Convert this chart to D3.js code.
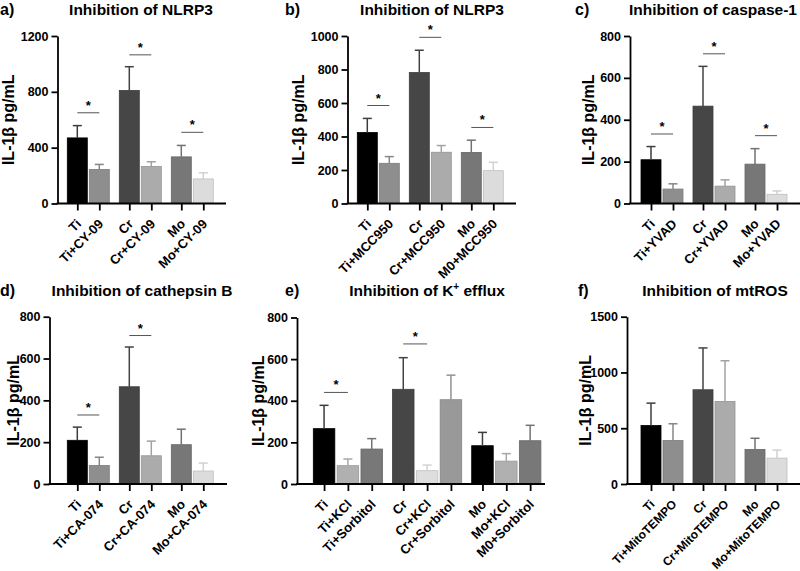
<!DOCTYPE html>
<html><head><meta charset="utf-8">
<script src="https://cdn.jsdelivr.net/npm/d3@7"></script>
<style>body{margin:0;background:#fff}svg{display:block}text{font-family:"Liberation Sans",Arial,sans-serif;font-weight:bold;fill:#000}</style>
</head><body>
<script>
// ---- data ----
const catsA = ["Ti","Ti+CY-09","Cr","Cr+CY-09","Mo","Mo+CY-09"];
const valsA = [470,244,810,265,334,176];
const errA  = [88,36,170,34,82,44];
const sigA  = [[0,1,650],[2,3,1065],[4,5,510]];
const ticksA = [0,400,800,1200];

const catsB = ["Ti","Ti+MCC950","Cr","Cr+MCC950","Mo","M0+MCC950"];
const valsB = [424,240,782,306,305,196];
const errB  = [84,40,133,40,73,50];
const sigB  = [[0,1,585],[2,3,992],[4,5,454]];
const ticksB = [0,200,400,600,800,1000];

const catsC = ["Ti","Ti+YVAD","Cr","Cr+YVAD","Mo","Mo+YVAD"];
const valsC = [209,69,465,83,188,44];
const errC  = [63,25,190,30,74,16];
const sigC  = [[0,1,332],[2,3,715],[4,5,324]];
const ticksC = [0,200,400,600,800];

const catsD = ["Ti","Ti+CA-074","Cr","Cr+CA-074","Mo","Mo+CA-074"];
const valsD = [209,88,465,135,188,62];
const errD  = [63,40,190,70,74,38];
const sigD  = [[0,1,330],[2,3,710]];
const ticksD = [0,200,400,600,800];

const catsE = ["Ti","Ti+KCl","Ti+Sorbitol","Cr","Cr+KCl","Cr+Sorbitol","Mo","Mo+KCl","M0+Sorbitol"];
const valsE = [266,88,168,455,64,405,184,110,208];
const errE  = [112,32,50,152,27,118,64,36,74];
const sigE  = [[0,1,440],[3,4,673]];
const ticksE = [0,200,400,600,800];

const catsF = ["Ti","Ti+MitoTEMPO","Cr","Cr+MitoTEMPO","Mo","Mo+MitoTEMPO"];
const valsF = [525,390,845,740,310,232];
const errF  = [200,150,375,365,100,72];
const sigF  = [];
const ticksF = [0,500,1000,1500];

const palette6 = ["#000000","#8e8e8e","#464646","#ababab","#777777","#dcdcdc"];
const palette9 = ["#000000","#b0b0b0","#787878","#464646","#dedede","#999999","#000000","#b0b0b0","#787878"];

const W = 800, H = 571;
const svg = d3.select("body").append("svg").attr("width", W).attr("height", H);

function panel(c) {
  const g = svg.append("g");
  const y = d3.scaleLinear().domain([0, c.ticks[c.ticks.length - 1]]).range([c.y0, c.y1]);
  const nG = c.cats.length / c.per;
  const groups = d3.range(nG);
  const gstep = c.gstep;
  const outer = d3.scaleBand().domain(groups)
    .range([c.bx, c.bx + nG * gstep - c.ggap])
    .paddingInner(c.ggap / gstep).paddingOuter(0);
  const inner = d3.scaleBand().domain(d3.range(c.per))
    .range([0, outer.bandwidth()])
    .paddingInner(c.bgap / (c.bw + c.bgap)).paddingOuter(0);
  const xLeft = i => outer(Math.floor(i / c.per)) + inner(i % c.per);
  const bw = inner.bandwidth();
  const cx = i => xLeft(i) + bw / 2;

  // bars
  const data = c.cats.map((k, i) => ({k, i, v: c.vals[i], e: c.errs[i], col: c.colors[i]}));
  g.selectAll("rect.bar").data(data).enter().append("rect")
    .attr("x", d => xLeft(d.i)).attr("width", bw)
    .attr("y", d => y(d.v)).attr("height", d => y(0) - y(d.v))
    .attr("fill", d => d.col)
    .attr("stroke", d => d3.color(d.col).darker(0.4)).attr("stroke-width", 0.8);
  // error bars
  const ecol = d => d.col === "#000000" ? "#3c3c3c" : d3.color(d.col).darker(0.15);
  g.selectAll("line.err").data(data).enter().append("line")
    .attr("x1", d => cx(d.i)).attr("x2", d => cx(d.i))
    .attr("y1", d => y(d.v)).attr("y2", d => y(d.v + d.e))
    .attr("stroke", ecol).attr("stroke-width", 1.5);
  g.selectAll("line.cap").data(data).enter().append("line")
    .attr("x1", d => cx(d.i) - 4.5).attr("x2", d => cx(d.i) + 4.5)
    .attr("y1", d => y(d.v + d.e)).attr("y2", d => y(d.v + d.e))
    .attr("stroke", ecol).attr("stroke-width", 1.5);

  // significance
  c.sig.forEach(s => {
    g.append("line").attr("x1", cx(s[0])).attr("x2", cx(s[1]))
      .attr("y1", y(s[2])).attr("y2", y(s[2]))
      .attr("stroke", "#555").attr("stroke-width", 1);
    g.append("text").attr("x", (cx(s[0]) + cx(s[1])) / 2).attr("y", y(s[2]) - 3)
      .attr("text-anchor", "middle").style("font-size", "13px").text("*");
  });

  // y axis
  const ya = g.append("g").attr("transform", `translate(${c.ax},0)`)
    .call(d3.axisLeft(y).tickValues(c.ticks).tickSize(6).tickSizeOuter(0).tickPadding(3).tickFormat(d3.format("d")));
  ya.select(".domain").attr("stroke", "#000").attr("stroke-width", 1.8);
  ya.selectAll(".tick line").attr("stroke", "#000").attr("stroke-width", 1.8);
  ya.selectAll(".tick text").style("font-size", "12.5px").style("font-family", "'Liberation Sans',Arial,sans-serif").style("font-weight", "bold").attr("fill", "#000");

  // x axis
  const xs = d3.scaleOrdinal().domain(c.cats).range(c.cats.map((k, i) => cx(i)));
  const xa = g.append("g").attr("transform", `translate(0,${c.y0})`)
    .call(d3.axisBottom(xs).tickSize(7).tickSizeOuter(0));
  xa.select(".domain").remove();
  g.append("line").attr("x1", c.ax - 0.9).attr("x2", c.xEnd).attr("y1", c.y0).attr("y2", c.y0)
    .attr("stroke", "#000").attr("stroke-width", 1.8);
  xa.selectAll(".tick line").attr("stroke", "#000").attr("stroke-width", 1.8);
  xa.selectAll(".tick text")
    .style("font-size", (c.xfs || 13) + "px").style("font-family", "'Liberation Sans',Arial,sans-serif").style("font-weight", "bold").attr("fill", "#000")
    .attr("text-anchor", "end").attr("dy", null).attr("y", null)
    .attr("transform", "translate(1,18) rotate(-45)").attr("dy", "0.35em");

  // y label
  g.append("text").attr("transform", `translate(${c.ylx},${(c.y0 + c.y1) / 2}) rotate(-90)`)
    .attr("text-anchor", "middle").attr("dy", "0.36em").style("font-size", "16px").text("IL-1β pg/mL");
  // letter + title
  g.append("text").attr("x", c.lx).attr("y", c.ty).style("font-size", "16px").text(c.letter);
  const t = g.append("text").attr("x", c.tx).attr("y", c.ty).attr("text-anchor", c.tanchor || "middle").style("font-size", "15.5px");
  if (c.titleSup) {
    t.append("tspan").text(c.title[0]);
    t.append("tspan").attr("dy", "-6").style("font-size", "10px").text(c.titleSup);
    t.append("tspan").attr("dy", "6").text(c.title[1]);
  } else t.text(c.title);
}

const base6 = {per: 2, bw: 20, bgap: 2, gstep: 52, ggap: 10, colors: palette6};
panel({...base6, letter: "a)", lx: 0, title: "Inhibition of NLRP3", tx: 141, ty: 15,
  cats: catsA, vals: valsA, errs: errA, sig: sigA, ticks: ticksA,
  ax: 57.5, xEnd: 226, bx: 67.3, y0: 203.5, y1: 36, ylx: 8});
panel({...base6, letter: "b)", lx: 285, title: "Inhibition of NLRP3", tx: 432, ty: 15,
  cats: catsB, vals: valsB, errs: errB, sig: sigB, ticks: ticksB,
  ax: 347.5, xEnd: 516, bx: 357.3, y0: 203.5, y1: 36, ylx: 298});
panel({...base6, letter: "c)", lx: 575, title: "Inhibition of caspase-1", tx: 629, tanchor: "start", ty: 15,
  cats: catsC, vals: valsC, errs: errC, sig: sigC, ticks: ticksC,
  ax: 630, xEnd: 800, bx: 641, y0: 203.5, y1: 36, ylx: 588});
panel({...base6, letter: "d)", lx: 0, title: "Inhibition of cathepsin B", tx: 142, ty: 296,
  cats: catsD, vals: valsD, errs: errD, sig: sigD, ticks: ticksD,
  ax: 49.5, xEnd: 227, bx: 67.3, y0: 484, y1: 316.7, ylx: 13});
panel({per: 3, bw: 21.5, bgap: 2.3, gstep: 79.2, ggap: 10, colors: palette9,
  letter: "e)", lx: 285, title: ["Inhibition of K", " efflux"], titleSup: "+", tx: 427, ty: 296,
  cats: catsE, vals: valsE, errs: errE, sig: sigE, ticks: ticksE,
  ax: 297, xEnd: 545, bx: 313.3, y0: 484, y1: 317.5, ylx: 258});
panel({...base6, letter: "f)", lx: 578, title: "Inhibition of mtROS", tx: 715, ty: 296, xfs: 12,
  cats: catsF, vals: valsF, errs: errF, sig: sigF, ticks: ticksF,
  ax: 627, xEnd: 800, bx: 641, y0: 484, y1: 316.7, ylx: 585});
</script>
</body></html>
